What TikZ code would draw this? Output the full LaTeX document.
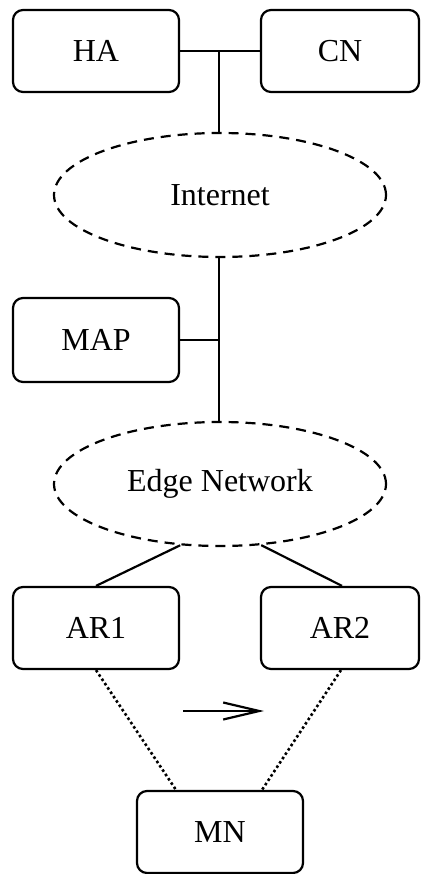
\documentclass[tikz,border=0pt]{standalone}
\usepackage{fontspec}
\setmainfont{Liberation Serif}
\usetikzlibrary{arrows.meta,calc,shapes.geometric}
\begin{document}
\begin{tikzpicture}[x=1pt,y=-1pt,
  font=\fontsize{32}{38}\selectfont,
  box/.style={draw,line width=2.2pt,rounded corners=10pt,minimum width=166pt,minimum height=82pt,inner sep=0pt},
  cloud/.style={draw,ellipse,line width=2.2pt,dash pattern=on 10pt off 7pt,minimum width=332pt,minimum height=124pt,inner sep=0pt},
  link/.style={line width=2.2pt},
  dotlink/.style={line width=2.6pt,dash pattern=on 2.6pt off 2.6pt}]
\useasboundingbox (0,0) rectangle (421,874);
\node[box] (HA) at (96,51) {HA};
\node[box,minimum width=158pt] (CN) at (340,51) {CN};
\node[cloud] (inet) at (220,195) {Internet};
\node[box,minimum height=84pt] (MAP) at (96,340) {MAP};
\node[cloud] (edge) at (220,484) {Edge Network};
\node[box] (AR1) at (96,628) {AR1};
\node[box,minimum width=158pt] (AR2) at (340,628) {AR2};
\node[box] (MN) at (220,832) {MN};
\coordinate (j1) at (219,51);
\coordinate (j2) at (219,340);
\coordinate (a1) at (183,711);
\coordinate (a2) at (264,711);
\draw[link] (HA.east) -- (CN.west);
\draw[link] (j1) -- (inet.north -| j1);
\draw[link] (MAP.east) -- (j2);
\draw[link] (inet.south -| j1) -- (edge.north -| j1);
\draw[link] (edge.237) -- (AR1.north);
\draw[link] (edge.304) -- ([xshift=2pt]AR2.north);
\draw[dotlink] (AR1.south) -- ([xshift=-44pt]MN.north);
\draw[dotlink] ([xshift=1pt]AR2.south) -- ([xshift=42pt]MN.north);
\draw[link,-{Straight Barb[length=36pt,width=17pt,line width=2.2pt]}] (a1) -- (a2);
\end{tikzpicture}
\end{document}
